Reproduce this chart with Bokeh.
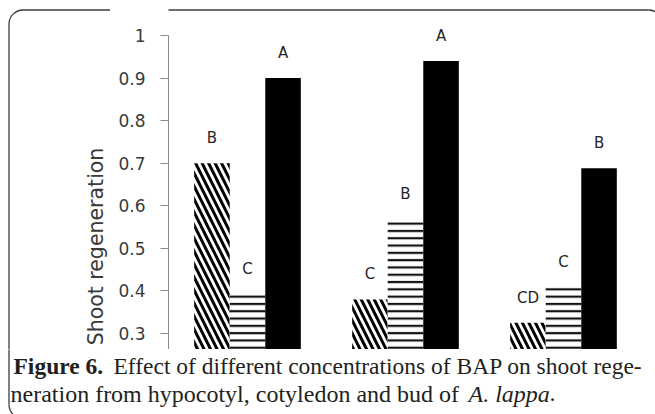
import math
from bokeh.plotting import figure
from bokeh.layouts import column, row
from bokeh.models import ColumnDataSource, FixedTicker, Label, Range1d
from bokeh.transform import dodge
from bokeh.core.properties import value
from bokeh.embed import file_html
from bokeh.resources import INLINE

# ---- data ----
groups = ["BAP 1", "BAP 2", "BAP 3"]
hypocotyl = [0.70, 0.38, 0.325]
cotyledon = [0.392, 0.568, 0.41]
bud = [0.90, 0.94, 0.688]
hyp_letters = ["B", "C", "CD"]
cot_letters = ["C", "B", "C"]
bud_letters = ["A", "A", "B"]
y_ticks = [0.3, 0.4, 0.5, 0.6, 0.7, 0.8, 0.9, 1.0]
y_tick_labels = ["0.3", "0.4", "0.5", "0.6", "0.7", "0.8", "0.9", "1"]
y_title = "Shoot regeneration"

# ---- layout geometry (pixels) ----
TOTAL_W, TOTAL_H = 655, 414
LEFT_W = 110          # strip holding the axis title
AXIS_X = 168          # x of the y axis line
CHART_B = 349         # bottom of the chart area
GROUP_PX = 158        # width of one group
UNIT_PX = 425.7       # pixels per 1.0 of y
Y_REF_PX, Y_REF_V = 333, 0.3

y_top = Y_REF_V + Y_REF_PX / UNIT_PX
y_bot = Y_REF_V - (CHART_B - Y_REF_PX) / UNIT_PX
x_end = (TOTAL_W - AXIS_X) / GROUP_PX

# rounded outer frame (decoration, pixel units)
FR_L, FR_T, FR_B, FR_R, FR_RAD = 8.5, 9.5, 418, 662, 14
FRAME = dict(line_color="#3c3c3c", line_width=1.3)


def iy(py):
    """page pixel row -> strip data y (strips use y = -row)"""
    return -py


def bare(width, y0_px, y1_px):
    f = figure(width=width, height=y1_px - y0_px,
               x_range=Range1d(0, width), y_range=Range1d(iy(y1_px), iy(y0_px)),
               output_backend="svg", toolbar_location=None,
               min_border_left=0, min_border_right=0, min_border_top=0, min_border_bottom=0)
    f.axis.visible = False
    f.grid.visible = False
    f.outline_line_color = None
    return f


# ---- left strip: axis title + left part of the frame ----
left = bare(LEFT_W, 0, CHART_B)
left.segment(x0=[FR_L + FR_RAD], y0=[iy(FR_T)], x1=[LEFT_W + 10], y1=[iy(FR_T)], **FRAME)
left.segment(x0=[FR_L], y0=[iy(FR_T + FR_RAD)], x1=[FR_L], y1=[iy(CHART_B + 5)], **FRAME)
left.arc(x=[FR_L + FR_RAD], y=[iy(FR_T + FR_RAD)], radius=FR_RAD, radius_units="screen",
         start_angle=math.pi / 2, end_angle=math.pi, direction="anticlock", **FRAME)
left.add_layout(Label(x=95, y=iy(246), text=y_title, angle=math.pi / 2,
                      text_align="center", text_baseline="middle",
                      text_font="DejaVu Sans", text_font_size="20.5px", text_color="#3a3a3a"))

# ---- main chart ----
x_pos = [i + 0.5 for i in range(len(groups))]
src = ColumnDataSource(dict(x=x_pos, group=groups, hyp=hypocotyl, cot=cotyledon, bud=bud,
                            hl=hyp_letters, cl=cot_letters, bl=bud_letters))

p = figure(width=TOTAL_W - LEFT_W, height=CHART_B, x_range=Range1d(0, x_end),
           y_range=Range1d(y_bot, y_top), output_backend="svg", toolbar_location=None,
           min_border_left=AXIS_X - LEFT_W, min_border_right=0, min_border_top=0,
           min_border_bottom=0)
p.outline_line_color = None
p.grid.visible = False
p.xaxis.visible = False

ya = p.yaxis[0]
ya.ticker = FixedTicker(ticks=y_ticks)
ya.major_label_overrides = {t: l for t, l in zip(y_ticks, y_tick_labels)}
ya.bounds = (y_bot, 1.0)
ya.axis_line_color = "#8a8a8a"
ya.major_tick_line_color = "#8a8a8a"
ya.minor_tick_line_color = None
ya.major_tick_out = 8
ya.major_tick_in = 0
ya.major_label_standoff = 15
ya.major_label_text_font = "DejaVu Sans"
ya.major_label_text_font_size = "17px"
ya.major_label_text_color = "#3a3a3a"

W = 0.225
p.vbar(x=dodge("x", -W), top="hyp", bottom=0, width=W, source=src,
       fill_color="white", line_color=None, hatch_pattern="\\", hatch_color="black",
       hatch_weight=3, hatch_scale=13)
p.vbar(x=dodge("x", 0), top="cot", bottom=0, width=W, source=src,
       fill_color="white", line_color=None, hatch_pattern="-", hatch_color="#111111",
       hatch_weight=2.2, hatch_scale=7.3)
p.vbar(x=dodge("x", W), top="bud", bottom=0, width=W, source=src,
       fill_color="black", line_color=None)

for off, col, lab in [(-W, "hyp", "hl"), (0, "cot", "cl"), (W, "bud", "bl")]:
    p.text(x=dodge("x", off), y=col, text=lab, source=src,
           y_offset=-25, text_align="center", text_baseline="middle",
           text_font=value("DejaVu Sans"), text_font_size="15px", text_color="#262626")


def fx(px):
    return (px - AXIS_X) / GROUP_PX


def fy(py):
    return Y_REF_V + (Y_REF_PX - py) / UNIT_PX


# top edge and top-right corner of the outer frame
p.segment(x0=[fx(AXIS_X - 5)], y0=[fy(FR_T)], x1=[fx(FR_R - FR_RAD)], y1=[fy(FR_T)], **FRAME)
p.arc(x=[fx(FR_R - FR_RAD)], y=[fy(FR_T + FR_RAD)], radius=FR_RAD, radius_units="screen",
      start_angle=0.0, end_angle=math.pi / 2, direction="anticlock", **FRAME)

# ---- caption strip ----
cap_fig = bare(TOTAL_W, CHART_B, TOTAL_H)
cap = dict(text_font="Liberation Serif", text_color="#231f20",
           text_baseline="alphabetic", text_align="left")
cap_fig.add_layout(Label(x=13, y=iy(365), text="Figure 6.", text_font_style="bold",
                         text_font_size="23.5px", **cap))
cap_fig.add_layout(Label(x=113, y=iy(365),
                         text="Effect of different concentrations of BAP on shoot rege-",
                         text_font_size="23.5px", **cap))
cap_fig.add_layout(Label(x=10, y=iy(393),
                         text="neration from hypocotyl, cotyledon and bud of",
                         text_font_size="24px", **cap))
cap_fig.add_layout(Label(x=468, y=iy(393), text="A. lappa", text_font_style="italic",
                         text_font_size="24px", **cap))
cap_fig.add_layout(Label(x=549, y=iy(393), text=".", text_font_size="24px", **cap))
cap_fig.segment(x0=[FR_L], y0=[iy(CHART_B - 5)], x1=[FR_L], y1=[iy(FR_B - FR_RAD)], **FRAME)
cap_fig.arc(x=[FR_L + FR_RAD], y=[iy(FR_B - FR_RAD)], radius=FR_RAD, radius_units="screen",
            start_angle=math.pi, end_angle=3 * math.pi / 2, direction="anticlock", **FRAME)

layout = column(row(left, p, spacing=0), cap_fig, spacing=0)
open("out.html", "w").write(file_html(layout, INLINE))
